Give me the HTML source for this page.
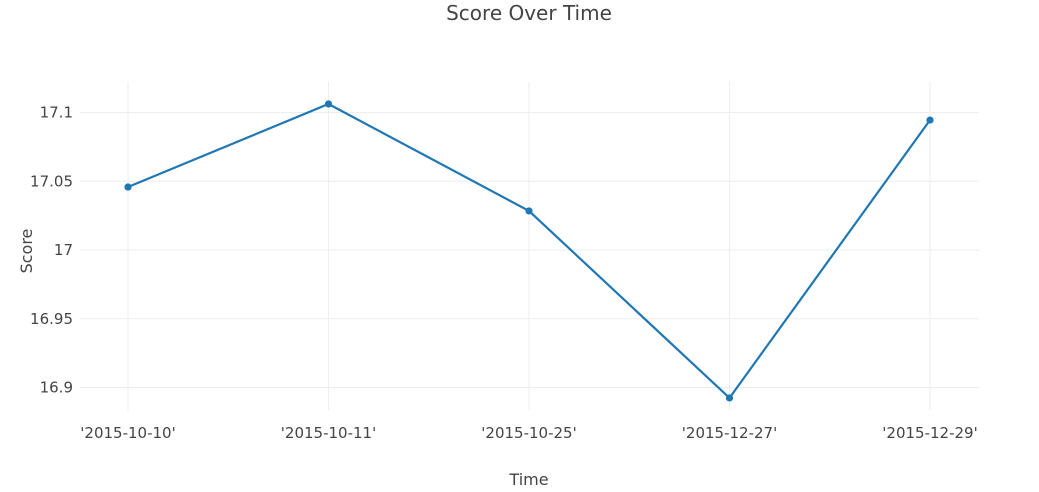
<!DOCTYPE html>
<html><head><meta charset="utf-8">
<style>
html,body{margin:0;padding:0;background:#fff;}
svg{display:block;font-family:"DejaVu Sans","Liberation Sans",sans-serif;}
</style></head>
<body>
<svg id="chart" width="1039" height="492">
  <text x="529" y="20" text-anchor="middle" font-size="20" fill="#444">Score Over Time</text>
  <g id="grid"></g>
  <g id="yticks"></g>
  <g id="xticks"></g>
  <g id="series"></g>
  <text x="0" y="0" transform="translate(32,251) rotate(-90)" text-anchor="middle" font-size="16" fill="#444">Score</text>
  <text x="529" y="485" text-anchor="middle" font-size="16" fill="#444">Time</text>
</svg>
<script>
const categories = ["'2015-10-10'","'2015-10-11'","'2015-10-25'","'2015-12-27'","'2015-12-29'"];
const scores = [17.0458, 17.1062, 17.0284, 16.8924, 17.0945];
const yTickValues = [16.9, 16.95, 17, 17.05, 17.1];
const yTickLabels = ["16.9","16.95","17","17.05","17.1"];

const NS = "http://www.w3.org/2000/svg";
const plotLeft = 80, plotRight = 979, plotTop = 82, plotBottom = 410;
function xScale(i){ return 128 + i * 200.5; }
function yScale(v){ return 250 - (v - 17) * 1375; }
function mk(tag, attrs, parent){
  const e = document.createElementNS(NS, tag);
  for (const k in attrs) e.setAttribute(k, attrs[k]);
  parent.appendChild(e);
  return e;
}
const grid = document.getElementById('grid');
const yt = document.getElementById('yticks');
const xt = document.getElementById('xticks');
const series = document.getElementById('series');

yTickValues.forEach((v, i) => {
  const y = yScale(v);
  const l = mk('line', {x1: plotLeft, x2: plotRight, y1: y, y2: y, stroke: '#eee', 'stroke-width': 1}, grid);
  
  
  const t = mk('text', {x: 73, y: y + 5, 'text-anchor': 'end', 'font-size': 15, fill: '#444'}, yt);
  t.textContent = yTickLabels[i];
  
  
});
categories.forEach((c, i) => {
  const x = xScale(i);
  const l = mk('line', {x1: x, x2: x, y1: plotTop, y2: plotBottom, stroke: '#eee', 'stroke-width': 1}, grid);
  
  
  const t = mk('text', {x: x, y: 438, 'text-anchor': 'middle', 'font-size': 15, fill: '#444'}, xt);
  t.textContent = c;
  
  
});
const pts = scores.map((v, i) => xScale(i) + ',' + yScale(v)).join(' ');
const line = mk('polyline', {points: pts, fill: 'none', stroke: '#1f77b4', 'stroke-width': 2.2}, series);


scores.forEach((v, i) => {
  const c = mk('circle', {cx: xScale(i), cy: yScale(v), r: 3.6, fill: '#1f77b4'}, series);
  
  
});
</script>
</body></html>
